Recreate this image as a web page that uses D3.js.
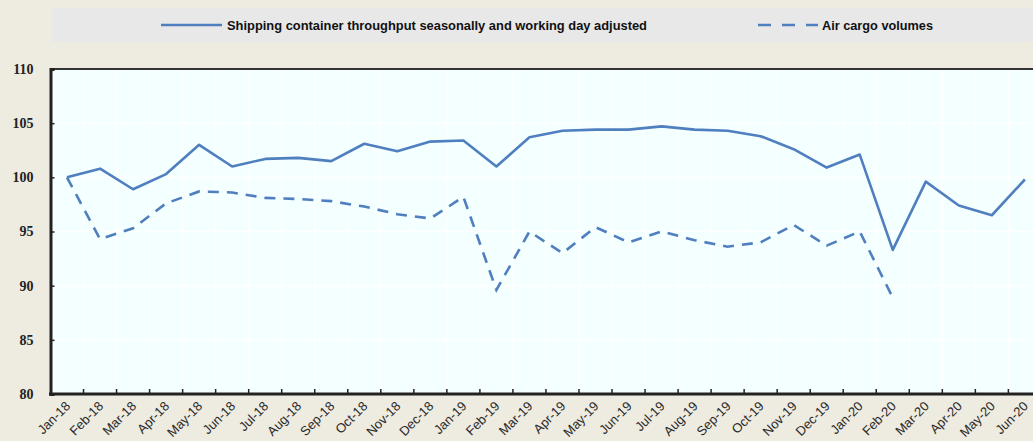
<!DOCTYPE html>
<meta charset="utf-8">
<style>
body { margin: 0; background: #eeebe0; }
text { font-family: "Liberation Sans Narrow", "Arial Narrow", "Liberation Sans", sans-serif; }
.ytick text { font-family: "Liberation Serif", serif; font-weight: bold; font-size: 14px; fill: #222; }
.xtick text { font-family: "Liberation Sans", sans-serif; font-size: 13px; fill: #2a2a2a; }
.legend text { font-size: 13px; font-weight: bold; fill: #111; }
</style>
<svg width="1033" height="441"></svg>
<script src="https://d3js.org/d3.v7.min.js"></script>
<script>

var months = ["Jan-18","Feb-18","Mar-18","Apr-18","May-18","Jun-18","Jul-18","Aug-18","Sep-18","Oct-18","Nov-18","Dec-18",
              "Jan-19","Feb-19","Mar-19","Apr-19","May-19","Jun-19","Jul-19","Aug-19","Sep-19","Oct-19","Nov-19","Dec-19",
              "Jan-20","Feb-20","Mar-20","Apr-20","May-20","Jun-20"];

var shipping = [100.0, 100.8, 98.9, 100.3, 103.0, 101.0, 101.7, 101.8, 101.5, 103.1, 102.4, 103.3,
                103.4, 101.0, 103.7, 104.3, 104.4, 104.4, 104.7, 104.4, 104.3, 103.8, 102.6, 100.9,
                102.1, 93.3, 99.6, 97.4, 96.5, 99.8];

var aircargo = [100.0, 94.3, 95.3, 97.6, 98.7, 98.6, 98.1, 98.0, 97.8, 97.3, 96.6, 96.2,
                98.2, 89.6, 95.0, 93.0, 95.4, 94.0, 95.0, 94.2, 93.6, 94.0, 95.6, 93.7,
                95.0, 88.9];

var yTicks = [80, 85, 90, 95, 100, 105, 110];

var seriesNames = ["Shipping container throughput seasonally and working day adjusted", "Air cargo volumes"];

var svg = d3.select("svg"),
    plotLeft = 50.5, plotTop = 69, plotBottom = 394,
    band = 33.03,
    plotRight = plotLeft + band * months.length;

var x = d3.scaleBand().domain(months).range([plotLeft, plotRight]);
var y = d3.scaleLinear().domain([80, 110]).range([plotBottom, plotTop]);
var cx = function(m) { return x(m) + x.bandwidth() / 2; };

var blue = "#4f7fbf";

// plot background
svg.append("rect")
    .attr("x", plotLeft).attr("y", plotTop)
    .attr("width", plotRight - plotLeft).attr("height", plotBottom - plotTop)
    .attr("fill", "#f4ffff");

// grid
var grid = svg.append("g").attr("stroke", "#ffffff").attr("stroke-width", 1.2);
grid.selectAll(".v").data(months.slice(1))
  .enter().append("line")
    .attr("x1", function(d) { return x(d); }).attr("x2", function(d) { return x(d); })
    .attr("y1", plotTop).attr("y2", plotBottom);
grid.selectAll(".h").data(yTicks.slice(1, -1))
  .enter().append("line")
    .attr("x1", plotLeft).attr("x2", plotRight)
    .attr("y1", function(d) { return y(d); }).attr("y2", function(d) { return y(d); });

// top border
svg.append("line")
    .attr("x1", plotLeft).attr("x2", plotRight).attr("y1", plotTop).attr("y2", plotTop)
    .attr("stroke", "#333").attr("stroke-width", 2);

// y axis
var yAxis = svg.append("g")
    .attr("class", "ytick")
    .attr("transform", "translate(" + plotLeft + ",0)")
    .call(d3.axisLeft(y).tickValues(yTicks).tickSize(-4).tickPadding(17));
yAxis.select(".domain").attr("stroke", "#222").attr("stroke-width", 3);
yAxis.selectAll(".tick line").attr("stroke", "#222").attr("stroke-width", 1.5);

// x axis
var xAxis = svg.append("g")
    .attr("class", "xtick")
    .attr("transform", "translate(0," + plotBottom + ")")
    .call(d3.axisBottom(x).tickSize(0).tickPadding(0));
xAxis.select(".domain").remove();
xAxis.selectAll(".tick text")
    .attr("text-anchor", "end")
    .attr("dy", 0)
    .attr("transform", "translate(4,13) rotate(-45)");

var xtickPos = months.slice(1).map(function(d) { return x(d); });
svg.append("g").selectAll("line").data(xtickPos)
  .enter().append("line")
    .attr("x1", function(d) { return d; }).attr("x2", function(d) { return d; })
    .attr("y1", plotBottom - 5).attr("y2", plotBottom)
    .attr("stroke", "#222").attr("stroke-width", 1.5);
svg.append("line")
    .attr("x1", plotLeft - 1.5).attr("x2", plotRight).attr("y1", plotBottom).attr("y2", plotBottom)
    .attr("stroke", "#222").attr("stroke-width", 3);

// lines
var line = d3.line()
    .x(function(d, i) { return cx(months[i]); })
    .y(function(d) { return y(d); });

svg.append("path")
    .datum(shipping)
    .attr("d", line)
    .attr("fill", "none")
    .attr("stroke", blue)
    .attr("stroke-width", 2.6)
    .attr("stroke-linejoin", "round");

svg.append("path")
    .datum(aircargo)
    .attr("d", line)
    .attr("fill", "none")
    .attr("stroke", blue)
    .attr("stroke-width", 2.6)
    .attr("stroke-dasharray", "11,8");

// legend
var legend = svg.append("g").attr("class", "legend");
legend.append("rect")
    .attr("x", 52).attr("y", 8).attr("width", 981).attr("height", 34)
    .attr("fill", "#e8e8e8");
legend.append("line")
    .attr("x1", 161).attr("x2", 222).attr("y1", 25).attr("y2", 25)
    .attr("stroke", blue).attr("stroke-width", 2.6);
legend.append("text")
    .attr("x", 227).attr("y", 30)
    .attr("textLength", 420).attr("lengthAdjust", "spacingAndGlyphs")
    .text(seriesNames[0]);
legend.append("line")
    .attr("x1", 758).attr("x2", 818).attr("y1", 25).attr("y2", 25)
    .attr("stroke", blue).attr("stroke-width", 2.6)
    .attr("stroke-dasharray", "13,11");
legend.append("text")
    .attr("x", 822).attr("y", 30)
    .attr("textLength", 111).attr("lengthAdjust", "spacingAndGlyphs")
    .text(seriesNames[1]);

</script>
